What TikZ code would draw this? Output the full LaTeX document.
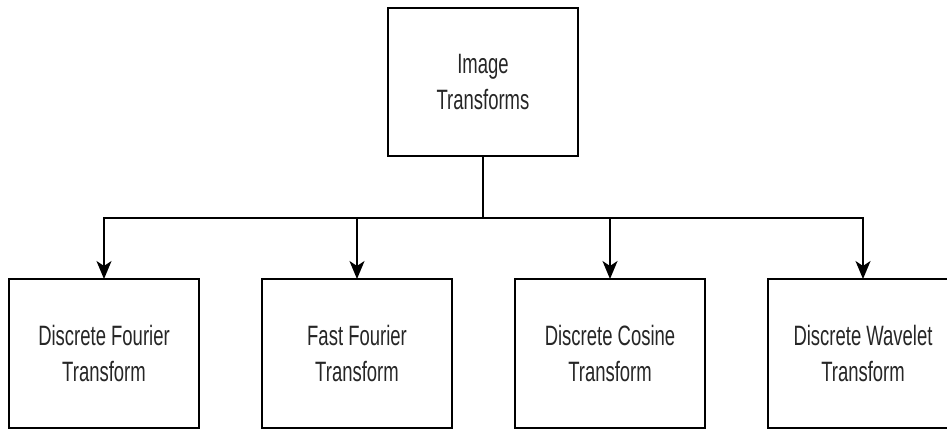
\documentclass[tikz,border=0pt]{standalone}
\usepackage{fontspec}
\setmainfont{Liberation Sans}[FakeStretch=0.66]
\usetikzlibrary{arrows.meta}

\begin{document}
\begin{tikzpicture}[
  x=1pt, y=-1pt,
  every node/.style={inner sep=0pt, outer sep=0pt},
  box/.style={draw, line width=2pt, rectangle, minimum width=190pt,
    align=center, font=\fontsize{28}{36}\selectfont, text=black!85},
  link/.style={line width=2pt},
  arrowlink/.style={link, -{Stealth[length=18pt, width=15pt, inset=5pt]}}
]
  \useasboundingbox (0,0) rectangle (947,430);

  % root of the hierarchy
  \node[box, minimum height=148pt] (root) at (483,82) {Image\\Transforms};

  % the four transforms
  \node[box, minimum height=149pt] (dft) at (104,353.5) {Discrete Fourier\\Transform};
  \node[box, minimum height=149pt] (fft) at (357,353.5) {Fast Fourier\\Transform};
  \node[box, minimum height=149pt] (dct) at (610,353.5) {Discrete Cosine\\Transform};
  \node[box, minimum height=149pt] (dwt) at (863,353.5) {Discrete Wavelet\\Transform};

  % branching point below the root
  \coordinate (bus) at (483,218);

  \draw[link] (root.south) -- (bus);
  \draw[arrowlink] (bus) -| (dft.north);
  \draw[arrowlink] (bus) -| (fft.north);
  \draw[arrowlink] (bus) -| (dct.north);
  \draw[arrowlink] (bus) -| (dwt.north);
\end{tikzpicture}
\end{document}
